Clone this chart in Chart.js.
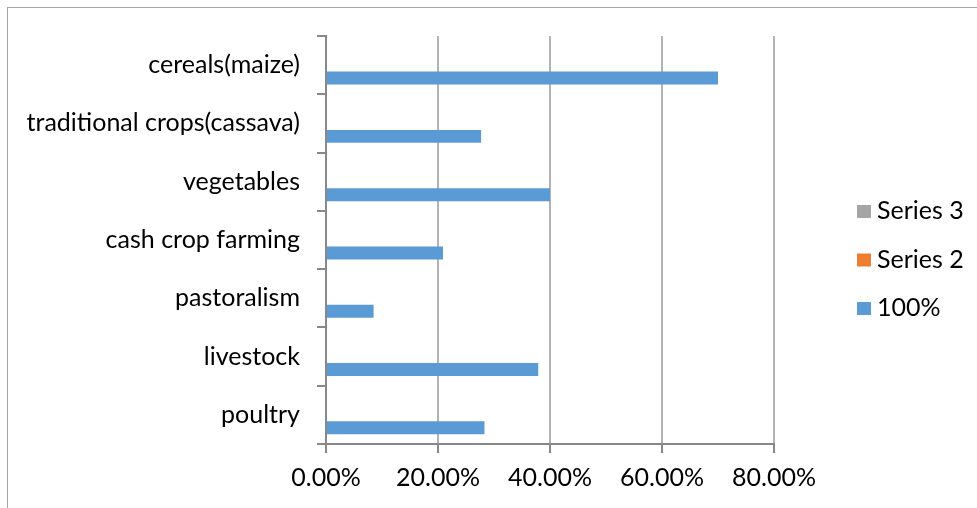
<!DOCTYPE html>
<html>
<head>
<meta charset="utf-8">
<script src="https://cdn.jsdelivr.net/npm/chart.js@4"></script>
<style>
  html, body { margin: 0; padding: 0; background: #fff; overflow: hidden; }
  #wrap { position: relative; width: 977px; height: 508px; }
  #frame {
    position: absolute; left: 7px; top: 7px; width: 1100px; height: 700px;
    border: 1.5px solid #a6a6a6; box-sizing: border-box;
  }
  #chart { position: absolute; left: 0; top: 0; }
</style>
</head>
<body>
<div id="wrap">
  <div id="frame"></div>
  <canvas id="chart" width="977" height="508"></canvas>
</div>
<script>
// Farming activities and their share (%)
const categories = [
  "cereals(maize)",
  "traditional crops(cassava)",
  "vegetables",
  "cash crop farming",
  "pastoralism",
  "livestock",
  "poultry"
];
const shareValues = [70, 27.7, 40, 20.9, 8.5, 37.9, 28.3];
const series2Values = [null, null, null, null, null, null, null];
const series3Values = [null, null, null, null, null, null, null];
const xTicks = [0, 20, 40, 60, 80];

const FONT = "Lato, Calibri, sans-serif";
const FONT_SIZE = 25;
const AXIS_GREY = "#888888";
const GRID_GREY = "#b3b3b3";

// legend drawn by hand: grey / orange / blue squares stacked on the right
const sideLegend = {
  id: "sideLegend",
  afterDraw(chart) {
    const ctx = chart.ctx;
    ctx.save();
    ctx.font = `${FONT_SIZE}px ${FONT}`;
    ctx.textBaseline = "middle";
    ctx.textAlign = "left";
    chart.data.datasets.forEach((ds, i) => {
      const y = 211 + i * 48.5;
      ctx.fillStyle = ds.backgroundColor;
      ctx.fillRect(857, y - 6, 14, 13);
      ctx.fillStyle = "#000";
      ctx.fillText(ds.label, 877, y);
    });
    ctx.restore();
  }
};

new Chart(document.getElementById("chart").getContext("2d"), {
  type: "bar",
  data: {
    labels: categories,
    datasets: [
      { label: "Series 3", data: series3Values, backgroundColor: "#a5a5a5" },
      { label: "Series 2", data: series2Values, backgroundColor: "#ed7d31" },
      { label: "100%", data: shareValues, backgroundColor: "#5b9bd5" }
    ]
  },
  options: {
    indexAxis: "y",
    responsive: false,
    animation: false,
    devicePixelRatio: 1,
    categoryPercentage: 0.667,
    barPercentage: 1,
    layout: { padding: { top: 36, right: 203, left: 0, bottom: 0 } },
    plugins: {
      legend: { display: false },
      tooltip: { enabled: false }
    },
    scales: {
      x: {
        min: 0,
        max: 80,
        afterBuildTicks: (scale) => { scale.ticks = xTicks.map(v => ({ value: v })); },
        afterFit: (scale) => { scale.height = 64; },
        grid: { color: GRID_GREY, lineWidth: 2, tickLength: 9, tickColor: AXIS_GREY },
        border: { color: AXIS_GREY, width: 2 },
        ticks: {
          color: "#000",
          padding: 10,
          maxRotation: 0,
          font: { family: FONT, size: FONT_SIZE },
          callback: (v) => v.toFixed(2) + "%"
        }
      },
      y: {
        afterFit: (scale) => { scale.width = 326; },
        grid: { drawOnChartArea: false, tickLength: 9, tickColor: AXIS_GREY, lineWidth: 2 },
        border: { color: AXIS_GREY, width: 2 },
        ticks: {
          color: "#000",
          padding: 17,
          font: { family: FONT, size: FONT_SIZE }
        }
      }
    }
  },
  plugins: [sideLegend]
});
</script>
</body>
</html>
